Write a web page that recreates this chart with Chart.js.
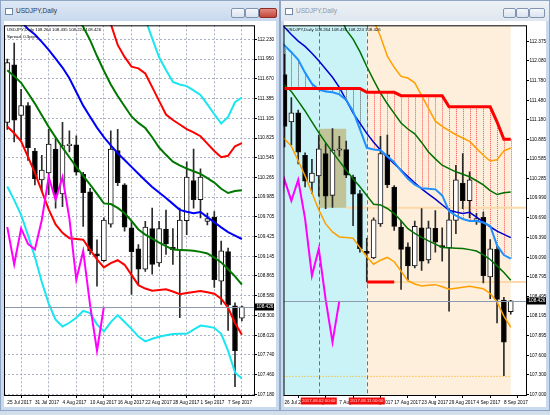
<!DOCTYPE html>
<html>
<head>
<meta charset="utf-8">
<script src="https://cdn.jsdelivr.net/npm/chart.js@4.4.1/dist/chart.umd.min.js"></script>
<style>
  html, body { margin: 0; padding: 0; }
  body { width: 550px; height: 415px; background: #d3deec; position: relative; overflow: hidden;
         font-family: 'Liberation Sans', Arial, sans-serif; }
  .win { position: absolute; top: 0; height: 411px; background: #c9d9ee; border: 1px solid #8fa6c4; box-sizing: border-box; }
  .title { position: absolute; left: 0; right: 0; top: 0; height: 20px;
           background: linear-gradient(#e3ebf5, #cddbec); }
  .title .cap { position: absolute; left: 15px; top: 6px; font-size: 6.5px; color: #1f3653; }
  .title .ico { position: absolute; left: 4px; top: 7px; width: 8px; height: 7px; border: 1px solid #6f88a8; background: #fff; box-sizing: border-box; }
  .btn { position: absolute; top: 7px; height: 10px; box-sizing: border-box; border: 1px solid #8094b0; background: linear-gradient(#f4f7fb, #d9e2ee); border-radius: 2px; }
  .client { position: absolute; left: 3px; right: 3px; top: 20px; bottom: 3px; background: #ffffff; }
  canvas { position: absolute; }
</style>
</head>
<body>
<div class="win" style="left:0;width:280px;">
  <div class="title" style="background:linear-gradient(#dfe9f6,#c8d8ed);">
    <div class="ico"></div>
    <div class="cap">USDJPY,Daily</div>
    <div class="btn" style="left:230px;width:14px;"></div>
    <div class="btn" style="left:244px;width:14px;"></div>
    <div class="btn" style="left:258px;width:18px;background:linear-gradient(#e08a80,#c4463b);border-color:#8c2e26;"></div>
  </div>
  <div class="client"></div>
</div>
<div class="win" style="left:280px;width:270px;">
  <div class="title" style="background:linear-gradient(#eef2f7,#dfe6ef);">
    <div class="ico"></div>
    <div class="cap" style="color:#8a96a6;">USDJPY,Daily</div>
    <div class="btn" style="left:222px;width:13px;"></div>
    <div class="btn" style="left:235px;width:13px;"></div>
    <div class="btn" style="left:248px;width:16px;"></div>
  </div>
  <div class="client"></div>
</div>
<canvas id="left" width="276" height="388" style="left:4px;top:22px;"></canvas>
<canvas id="right" width="265" height="388" style="left:283px;top:22px;"></canvas>

<script>
// ---- USDJPY daily, 25 Jul 2017 – 11 Sep 2017 (bar index 1..35) ----
const days = ['25 Jul','26 Jul','27 Jul','28 Jul','31 Jul','1 Aug','2 Aug','3 Aug','4 Aug','7 Aug',
  '8 Aug','9 Aug','10 Aug','11 Aug','14 Aug','15 Aug','16 Aug','17 Aug','18 Aug','21 Aug',
  '22 Aug','23 Aug','24 Aug','25 Aug','28 Aug','29 Aug','30 Aug','31 Aug','1 Sep','4 Sep',
  '5 Sep','6 Sep','7 Sep','8 Sep','11 Sep'];
const open  = [111.05,111.87,111.15,111.29,110.64,110.23,110.33,110.67,110.03,110.72,110.73,110.31,110.06,109.18,109.08,109.60,110.65,110.16,109.55,109.25,108.96,109.54,109.05,109.53,109.27,109.23,109.65,110.22,109.95,109.64,109.70,108.79,109.21,108.44,108.264];
const high  = [111.95,112.18,111.52,111.33,110.68,110.58,110.95,110.82,111.05,110.93,110.86,110.34,110.11,109.38,109.69,110.93,110.95,110.18,109.64,109.31,109.64,109.83,109.64,109.80,109.54,109.83,110.49,110.67,110.39,109.76,109.78,109.36,109.26,108.48,108.435];
const low   = [110.95,110.77,110.80,110.51,110.16,110.06,110.02,109.83,109.85,110.63,110.30,109.57,109.17,108.72,109.07,109.56,110.15,109.50,108.60,108.75,108.93,108.89,109.00,109.17,109.03,108.27,109.45,109.83,109.69,109.59,108.70,108.46,108.09,107.29,108.224];
const close = [111.90,111.08,111.29,110.69,110.25,110.37,110.74,110.02,110.72,110.74,110.34,110.05,109.22,109.15,109.66,110.67,110.19,109.56,109.21,108.96,109.56,109.03,109.54,109.32,109.24,109.66,110.27,109.95,110.27,109.68,108.81,109.22,108.45,107.80,108.426];

// Bollinger bands (middle line and +-1, 2, 3 sigma)
const bbMid = [112.70,112.59,112.48,112.38,112.30,112.196,112.081,111.957,111.830,111.677,111.482,111.288,111.131,110.975,110.840,110.722,110.611,110.514,110.416,110.319,110.222,110.131,110.053,109.975,109.890,109.805,109.779,109.756,109.775,109.701,109.629,109.555,109.488,109.439,109.390];
const bbUp1 = [113.61,113.47,113.35,113.29,113.28,113.24,113.18,113.08,112.97,112.80,112.55,112.41,112.22,111.994,111.785,111.590,111.426,111.280,111.134,111.042,110.969,110.838,110.692,110.588,110.491,110.439,110.391,110.354,110.316,110.255,110.193,110.105,110.045,110.073,110.085];
const bbLo1 = [111.793,111.708,111.613,111.467,111.317,111.151,110.986,110.836,110.690,110.553,110.416,110.287,110.165,110.031,109.897,109.887,109.833,109.756,109.648,109.526,109.453,109.394,109.339,109.290,109.241,109.234,109.229,109.224,109.207,109.185,109.126,109.057,108.960,108.858,108.741];
const bbUp2 = [114.5,114.3,114.1,114.0,113.9,113.9,113.8,113.7,113.5,113.4,113.2,113.1,112.95,112.85,112.70,112.45,112.152,111.981,111.843,111.818,111.745,111.551,111.356,111.162,111.084,111.019,110.955,110.906,110.853,110.748,110.643,110.555,110.575,110.710,110.754];
const bbLo2 = [110.992,110.895,110.779,110.560,110.332,110.072,109.812,109.598,109.477,109.400,109.390,109.380,109.237,109.099,108.985,109.046,109.088,109.023,108.879,108.733,108.685,108.654,108.664,108.674,108.642,108.605,108.620,108.636,108.650,108.631,108.611,108.540,108.412,108.195,108.026];
const bbUp3 = [115.3,115.2,115.0,114.9,114.7,114.6,114.5,114.4,114.2,114.0,113.9,113.8,113.7,113.7,113.6,113.4,113.2,113.0,112.9,112.75,112.52,112.244,111.977,111.794,111.624,111.590,111.566,111.505,111.439,111.305,111.166,111.034,111.128,111.336,111.404];
const bbLo3 = [110.138,109.943,109.733,109.441,109.134,108.778,108.471,108.243,108.146,108.198,108.270,108.367,108.335,108.175,108.074,108.208,108.307,108.210,108.111,108.001,107.933,107.970,108.000,108.019,108.039,108.040,108.040,108.101,108.158,108.144,108.126,108.041,107.797,107.492,107.405];

// Base line (light blue) and highest-high step line of the right chart
const baseLine  = [112.42,112.314,112.211,112.094,111.900,111.729,111.643,111.612,111.600,111.569,111.485,111.313,111.040,110.756,110.732,110.720,110.628,110.537,110.405,110.284,110.197,110.142,110.133,110.124,110.031,109.794,109.725,109.673,109.642,109.642,109.619,109.567,109.271,109.124,109.071];
const rangeHigh = [111.66,111.66,111.66,111.66,111.66,111.66,111.66,111.66,111.66,111.66,111.66,111.66,111.66,111.60,111.60,111.60,111.60,111.60,111.55,111.55,111.55,111.55,111.55,111.55,111.55,111.38,111.38,111.38,111.38,111.38,111.38,111.38,111.15,110.885,110.885];

// Lagging closes (left: 20 bars back, right: 25 bars back)
const lagLeft  = [109.56,109.03,109.54,109.32,109.24,109.66,110.27,109.95,110.27,109.68,108.81,109.22,108.45,107.80,108.426];
const lagRight = [109.66,110.27,109.95,110.27,109.68,108.81,109.22,108.45,107.80,108.426];

// Marked bars and levels on the right chart
const markBars  = [7, 14];                 // 2017.08.02, 2017.08.11
const markText  = ['2017.08.02 00:00', '2017.08.11 00:00'];
const boxBars   = [7, 11];                 // range box 2 Aug – 8 Aug
const boxLevels = [111.046, 109.843];
const lowSeg    = [14, 18, 108.715];       // bars from/to, level
const lastLow   = 107.286;

// Axis labels
const leftXLabels  = {1:'25 Jul 2017',5:'31 Jul 2017',9:'4 Aug 2017',13:'10 Aug 2017',17:'16 Aug 2017',21:'22 Aug 2017',25:'28 Aug 2017',29:'1 Sep 2017',33:'7 Sep 2017'};
const rightXLabels = {2:'26 Jul 2017',6:'1 Aug 2017',10:'7 Aug 2017',14:'11 Aug 2017',18:'17 Aug 2017',22:'23 Aug 2017',26:'29 Aug 2017',30:'4 Sep 2017',34:'8 Sep 2017'};
const leftYTicks  = [112.230,111.950,111.670,111.385,111.105,110.825,110.545,110.265,109.985,109.705,109.425,109.145,108.865,108.580,108.300,108.020,107.740,107.460,107.180];
const rightYTicks = [112.375,112.080,111.780,111.480,111.180,110.885,110.585,110.285,109.990,109.690,109.390,109.090,108.795,108.495,108.195,107.895,107.600,107.300,107.000];

const quote = 'USDJPY,Daily ' + [open[34], high[34], low[34], close[34]].map(v => v.toFixed(3)).join(' ');
const FONT = "'Liberation Sans', Arial, sans-serif";
const FS = 4.7;   // axis labels
const QS = 4.3;   // quote text

const pts = (arr, start = 1) => arr.map((v, k) => ({ x: start + k, y: v }));
const line = (arr, color, width, start) => ({
  type: 'line', data: pts(arr, start), borderColor: color, borderWidth: width,
  pointRadius: 0, tension: 0, order: 1, spanGaps: true
});
const candleSets = () => [
  { type: 'bar', data: open.map((o, k) => ({ x: k + 1, y: [o, close[k]] })),
    backgroundColor: open.map((o, k) => close[k] >= o ? '#ffffff' : '#000000'),
    borderColor: '#111111', borderWidth: 1, borderSkipped: false, barThickness: 5,
    minBarLength: 1, grouped: false, order: 5 },
  { type: 'bar', data: low.map((l, k) => ({ x: k + 1, y: [l, high[k]] })),
    backgroundColor: '#2a2a2a', barThickness: 1, grouped: false, order: 6 }
];

function baseOptions(xMin, xMax, yMin, yMax, yTicks, xLabels, yWidth, grid) {
  return {
    responsive: false, animation: false, devicePixelRatio: 1,
    layout: { padding: 0 },
    plugins: { legend: { display: false }, tooltip: { enabled: false } },
    scales: {
      x: {
        type: 'linear', min: xMin, max: xMax, offset: false,
        afterBuildTicks: s => { s.ticks = Object.keys(xLabels).map(k => ({ value: +k })); },
        afterFit: s => { s.height = 15; },
        ticks: { callback: v => xLabels[v] || '', autoSkip: false, maxRotation: 0, minRotation: 0,
                 align: 'start', padding: 1.5, color: '#000', font: { family: FONT, size: FS } },
        grid: { display: true, drawOnChartArea: grid, color: '#a9b1c2', tickLength: 3, tickColor: '#000', tickBorderDash: [] },
        border: { display: false, dash: [2, 2] }
      },
      y: {
        type: 'linear', position: 'right', min: yMin, max: yMax,
        afterBuildTicks: s => { s.ticks = yTicks.map(v => ({ value: v })); },
        afterFit: s => { s.width = yWidth; },
        ticks: { callback: v => v.toFixed(3), autoSkip: false, padding: 0.5, color: '#000',
                 font: { family: FONT, size: FS } },
        grid: { display: true, drawOnChartArea: grid, color: '#a9b1c2', tickLength: 2, tickColor: '#000', tickBorderDash: [] },
        border: { display: false, dash: [2, 2] }
      }
    }
  };
}

// frame, last-price line and label, quote text
function overlay(extraLine) {
  return {
    id: 'overlay',
    afterDatasetsDraw(chart) {
      const { ctx, chartArea: a, scales: { y } } = chart;
      const last = close[close.length - 1];
      const py = Math.round(y.getPixelForValue(last)) + 0.5;
      ctx.save();
      ctx.strokeStyle = '#8e9aae'; ctx.lineWidth = 1;
      ctx.beginPath(); ctx.moveTo(a.left, py); ctx.lineTo(a.right, py); ctx.stroke();
      ctx.fillStyle = '#000';
      ctx.font = QS + 'px ' + FONT; ctx.textBaseline = 'middle';
      ctx.fillText(quote, a.left + 3, a.top + 5);
      if (extraLine) ctx.fillText(extraLine, a.left + 3, a.top + 11.5);
      ctx.restore();
    },
    afterDraw(chart) {
      const { ctx, chartArea: a, scales: { y } } = chart;
      const last = close[close.length - 1];
      const py = Math.round(y.getPixelForValue(last));
      ctx.save();
      ctx.strokeStyle = '#000'; ctx.lineWidth = 1;
      ctx.strokeRect(a.left + 0.5, a.top + 0.5, a.width - 1, a.height);
      ctx.fillStyle = '#000';
      ctx.fillRect(a.right, py - 3.5, 19, 7);
      ctx.fillStyle = '#fff'; ctx.font = FS + 'px ' + FONT; ctx.textBaseline = 'middle';
      ctx.fillText(last.toFixed(3), a.right + 1.5, py);
      ctx.restore();
    }
  };
}

// ---- left chart ----
new Chart(document.getElementById('left'), {
  type: 'line',
  data: { datasets: [
    line(lagLeft, '#ff00ff', 2),
    line(bbUp3, '#19e6f0', 2), line(bbLo3, '#19e6f0', 2),
    line(bbUp2, '#ff0000', 2), line(bbLo2, '#ff0000', 2),
    line(bbUp1, '#007800', 2), line(bbLo1, '#007800', 2),
    line(bbMid, '#0000ff', 2),
    ...candleSets()
  ] },
  options: baseOptions(0.522, 36.9, 107.170, 112.431, leftYTicks, leftXLabels, 25, true),
  plugins: [overlay('Spread: 0.3pips')]
});

// ---- right chart ----
const zones = {
  id: 'zones',
  beforeDatasetsDraw(chart) {
    const { ctx, chartArea: a, scales: { x, y } } = chart;
    const X = v => x.getPixelForValue(v), Y = v => y.getPixelForValue(v);
    const xm = X(markBars[1]), xEnd = X(close.length);
    ctx.save();
    ctx.beginPath(); ctx.rect(a.left, a.top, a.width, a.height); ctx.clip();
    ctx.fillStyle = '#caf3f8'; ctx.fillRect(a.left, a.top, xm - a.left, a.height);
    ctx.fillStyle = '#fdefdc'; ctx.fillRect(xm, a.top, xEnd - xm, a.height);
    // range box
    ctx.fillStyle = 'rgba(190,180,120,0.75)';
    ctx.fillRect(X(boxBars[0]), Y(boxLevels[0]), X(boxBars[1]) - X(boxBars[0]), Y(boxLevels[1]) - Y(boxLevels[0]));
    // gap between highest high and base line, one dotted stroke per bar
    ctx.lineWidth = 1; ctx.setLineDash([1, 1]);
    rangeHigh.forEach((h, k) => {
      const i = k + 1, px = Math.round(X(i)) + 0.5;
      ctx.strokeStyle = i < markBars[1] ? '#555555' : '#ff5050';
      ctx.beginPath(); ctx.moveTo(px, Y(h)); ctx.lineTo(px, Y(baseLine[k])); ctx.stroke();
    });
    ctx.setLineDash([]);
    // extended levels
    ctx.strokeStyle = '#fbd9a9'; ctx.lineWidth = 2;
    ctx.beginPath(); ctx.moveTo(X(boxBars[1]), Y(boxLevels[1])); ctx.lineTo(a.right, Y(boxLevels[1])); ctx.stroke();
    ctx.beginPath(); ctx.moveTo(X(lowSeg[1]), Y(lowSeg[2])); ctx.lineTo(a.right, Y(lowSeg[2])); ctx.stroke();
    ctx.strokeStyle = '#ffa500'; ctx.lineWidth = 1; ctx.setLineDash([1, 2]);
    ctx.beginPath(); ctx.moveTo(a.left, Y(lastLow) + 0.5); ctx.lineTo(xEnd, Y(lastLow) + 0.5); ctx.stroke();
    // marked dates
    ctx.strokeStyle = '#ff3030'; ctx.setLineDash([4, 3]);
    markBars.forEach(b => { const px = Math.round(X(b)) + 0.5; ctx.beginPath(); ctx.moveTo(px, a.top); ctx.lineTo(px, a.bottom); ctx.stroke(); });
    ctx.restore();
  },
  afterDraw(chart) {
    const { ctx, chartArea: a, scales: { x } } = chart;
    ctx.save();
    ctx.font = QS + 'px ' + FONT; ctx.textBaseline = 'middle'; ctx.textAlign = 'center';
    markBars.forEach((b, k) => {
      const px = x.getPixelForValue(b);
      ctx.fillStyle = '#f01010'; ctx.fillRect(px - 18, a.bottom + 2.5, 36, 7);
      ctx.fillStyle = '#ffd8d8'; ctx.fillText(markText[k], px, a.bottom + 6);
    });
    ctx.restore();
  }
};

new Chart(document.getElementById('right'), {
  type: 'line',
  data: { datasets: [
    line(lagRight, '#ff00ff', 2),
    line(rangeHigh, '#ff0000', 3),
    { ...line([lowSeg[2], lowSeg[2]], '#ff0000', 3), data: [{ x: lowSeg[0], y: lowSeg[2] }, { x: lowSeg[1], y: lowSeg[2] }] },
    line(bbUp2, '#ffa000', 1.5), line(bbLo2, '#ffa000', 1.5),
    line(bbUp1, '#007000', 1.5), line(bbLo1, '#007000', 1.5),
    line(baseLine, '#2090ff', 2),
    line(bbMid, '#0000d0', 1.5),
    ...candleSets()
  ] },
  options: baseOptions(1.854, 37.37, 106.995, 112.620, rightYTicks, rightXLabels, 21, false),
  plugins: [zones, overlay(null)]
});
</script>
</body>
</html>
